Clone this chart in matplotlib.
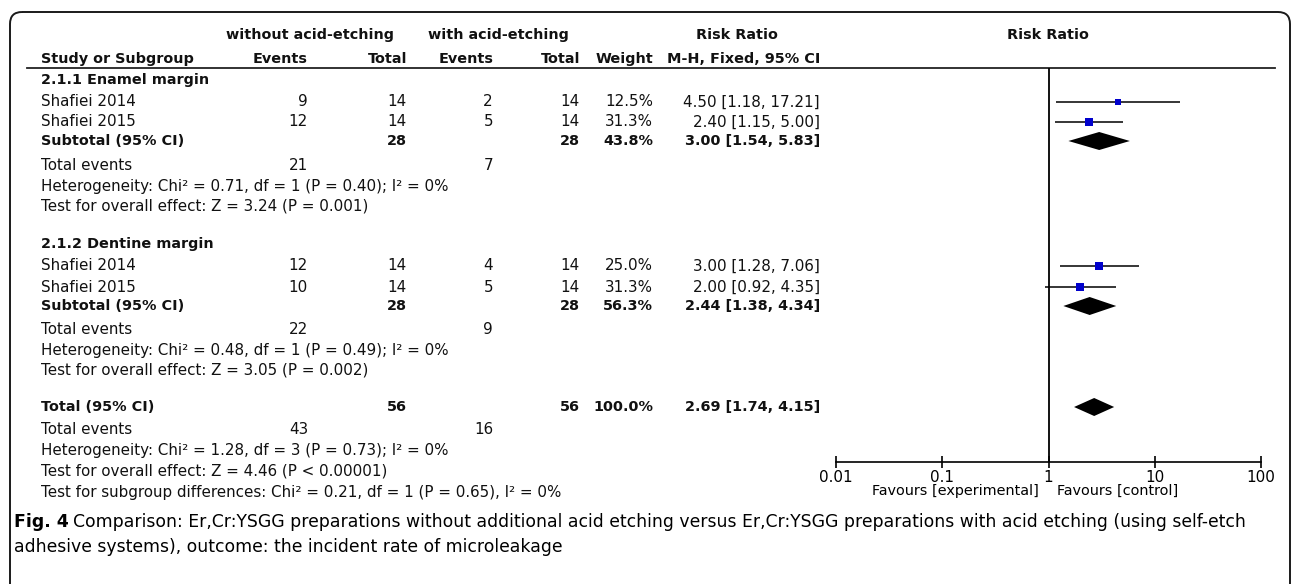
import numpy as np
import matplotlib.pyplot as plt
from matplotlib.patches import FancyBboxPatch

# forest plot data
groups = ['2.1.1 Enamel margin', '2.1.2 Dentine margin']
studies = ['Shafiei 2014', 'Shafiei 2015', 'Shafiei 2014', 'Shafiei 2015']
study_group = [0, 0, 1, 1]
ev_exp = [9, 12, 12, 10]
tot_exp = [14, 14, 14, 14]
ev_ctl = [2, 5, 4, 5]
tot_ctl = [14, 14, 14, 14]
weights = [12.5, 31.3, 25.0, 31.3]
rr = [4.50, 2.40, 3.00, 2.00]
rr_lo = [1.18, 1.15, 1.28, 0.92]
rr_hi = [17.21, 5.00, 7.06, 4.35]

sub_tot_exp = [28, 28]
sub_tot_ctl = [28, 28]
sub_ev_exp = [21, 22]
sub_ev_ctl = [7, 9]
sub_weight = [43.8, 56.3]
sub_rr = [3.00, 2.44]
sub_lo = [1.54, 1.38]
sub_hi = [5.83, 4.34]
sub_het = ['Heterogeneity: Chi² = 0.71, df = 1 (P = 0.40); I² = 0%',
           'Heterogeneity: Chi² = 0.48, df = 1 (P = 0.49); I² = 0%']
sub_test = ['Test for overall effect: Z = 3.24 (P = 0.001)',
            'Test for overall effect: Z = 3.05 (P = 0.002)']

total_n = [56, 56]
total_ev = [43, 16]
total_rr = 2.69
total_lo = 1.74
total_hi = 4.15
total_het = 'Heterogeneity: Chi² = 1.28, df = 3 (P = 0.73); I² = 0%'
total_test = 'Test for overall effect: Z = 4.46 (P < 0.00001)'
subgroup_test = 'Test for subgroup differences: Chi² = 0.21, df = 1 (P = 0.65), I² = 0%'

ticks = [0.01, 0.1, 1, 10, 100]
tick_labels = ['0.01', '0.1', '1', '10', '100']

caption_bold = 'Fig. 4'
caption_1 = ('Comparison: Er,Cr:YSGG preparations without additional acid etching versus '
             'Er,Cr:YSGG preparations with acid etching (using self-etch')
caption_2 = 'adhesive systems), outcome: the incident rate of microleakage'

# layout (pixels)
W, H = 1292, 584
FS = 10.9   # regular text
FSB = 10.4  # bold text
x_label = 41
x_ev1, x_tot1, x_ev2, x_tot2, x_w, x_ci = 308, 407, 493, 580, 653, 820
x_one = 1048
axis_y = 462
head_y = 68

group_rows = [[80, 102, 122, 141, 165, 186, 206],
              [244, 266, 287, 306, 329, 350, 370]]
total_rows = [407, 430, 451, 471, 492]

plt.rcParams['font.family'] = ['DejaVu Sans']
fig = plt.figure(figsize=(W / 100, H / 100), dpi=100)
ax = fig.add_axes([0, 0, 1, 1])
ax.set_xlim(0, W)
ax.set_ylim(H, 0)
ax.axis('off')

# frame
frame = FancyBboxPatch((10, 12), 1280, 620, boxstyle='round,pad=0,rounding_size=12',
                       fc='none', ec='#1a1a1a', lw=1.4)
ax.add_patch(frame)


def txt(x, y, s, ha='left', bold=False):
    ax.text(x, y, s, ha=ha, va='center', fontsize=FSB if bold else FS,
            fontweight='bold' if bold else 'normal', color='#111111')


# header
txt(310, 35, 'without acid-etching', ha='center', bold=True)
txt(498, 35, 'with acid-etching', ha='center', bold=True)
txt(737, 35, 'Risk Ratio', ha='center', bold=True)
txt(x_one, 35, 'Risk Ratio', ha='center', bold=True)
txt(x_label, 59, 'Study or Subgroup', bold=True)
txt(x_ev1, 59, 'Events', ha='right', bold=True)
txt(x_tot1, 59, 'Total', ha='right', bold=True)
txt(x_ev2, 59, 'Events', ha='right', bold=True)
txt(x_tot2, 59, 'Total', ha='right', bold=True)
txt(x_w, 59, 'Weight', ha='right', bold=True)
txt(x_ci, 59, 'M-H, Fixed, 95% CI', ha='right', bold=True)
ax.plot([27, 1275], [head_y, head_y], color='#222222', lw=1.3)

# forest axes
fa = fig.add_axes([836 / W, (H - axis_y) / H, (1261 - 836) / W, (axis_y - head_y) / H])
fa.set_xscale('log')
fa.set_xlim(0.01, 100)
fa.set_ylim(axis_y, head_y)
fa.patch.set_visible(False)
for s in ['top', 'left', 'right']:
    fa.spines[s].set_visible(False)
fa.spines['bottom'].set_linewidth(1.2)
fa.set_yticks([])
fa.set_xticks(ticks)
fa.set_xticklabels(tick_labels)
fa.xaxis.set_minor_locator(plt.NullLocator())
fa.tick_params(axis='x', direction='inout', length=9, width=1.2, labelsize=FS, pad=1)
fa.axvline(1, color='black', lw=1.3)


def diamond(y, est, lo, hi):
    fa.fill([lo, est, hi, est], [y, y - 9, y, y + 9], color='black', lw=0)


for g in range(len(groups)):
    rows = group_rows[g]
    txt(x_label, rows[0], groups[g], bold=True)
    idx = [i for i in range(len(studies)) if study_group[i] == g]
    for k, i in enumerate(idx):
        y = rows[1 + k]
        txt(x_label, y, studies[i])
        txt(x_ev1, y, str(ev_exp[i]), ha='right')
        txt(x_tot1, y, str(tot_exp[i]), ha='right')
        txt(x_ev2, y, str(ev_ctl[i]), ha='right')
        txt(x_tot2, y, str(tot_ctl[i]), ha='right')
        txt(x_w, y, f'{weights[i]:.1f}%', ha='right')
        txt(x_ci, y, f'{rr[i]:.2f} [{rr_lo[i]:.2f}, {rr_hi[i]:.2f}]', ha='right')
        fa.hlines(y, rr_lo[i], rr_hi[i], color='black', lw=1.1)
        side = 1.5 * np.sqrt(weights[i])
        fa.plot(rr[i], y, marker='s', ms=side * 0.72, color='#0000CC', mec='#0000CC', mew=0)
    y = rows[3]
    txt(x_label, y, 'Subtotal (95% CI)', bold=True)
    txt(x_tot1, y, str(sub_tot_exp[g]), ha='right', bold=True)
    txt(x_tot2, y, str(sub_tot_ctl[g]), ha='right', bold=True)
    txt(x_w, y, f'{sub_weight[g]:.1f}%', ha='right', bold=True)
    txt(x_ci, y, f'{sub_rr[g]:.2f} [{sub_lo[g]:.2f}, {sub_hi[g]:.2f}]', ha='right', bold=True)
    diamond(y, sub_rr[g], sub_lo[g], sub_hi[g])
    txt(x_label, rows[4], 'Total events')
    txt(x_ev1, rows[4], str(sub_ev_exp[g]), ha='right')
    txt(x_ev2, rows[4], str(sub_ev_ctl[g]), ha='right')
    txt(x_label, rows[5], sub_het[g])
    txt(x_label, rows[6], sub_test[g])

# overall
y = total_rows[0]
txt(x_label, y, 'Total (95% CI)', bold=True)
txt(x_tot1, y, str(total_n[0]), ha='right', bold=True)
txt(x_tot2, y, str(total_n[1]), ha='right', bold=True)
txt(x_w, y, '100.0%', ha='right', bold=True)
txt(x_ci, y, f'{total_rr:.2f} [{total_lo:.2f}, {total_hi:.2f}]', ha='right', bold=True)
diamond(y, total_rr, total_lo, total_hi)
txt(x_label, total_rows[1], 'Total events')
txt(x_ev1, total_rows[1], str(total_ev[0]), ha='right')
txt(x_ev2, total_rows[1], str(total_ev[1]), ha='right')
txt(x_label, total_rows[2], total_het)
txt(x_label, total_rows[3], total_test)
txt(x_label, total_rows[4], subgroup_test)

ax.text(x_one - 9, 491, 'Favours [experimental]', ha='right', va='center', fontsize=10.4)
ax.text(x_one + 9, 491, 'Favours [control]', ha='left', va='center', fontsize=10.4)

# caption
CS = 12.4
t = ax.text(14, 522, caption_bold, ha='left', va='center', fontsize=CS, fontweight='bold')
fig.canvas.draw()
bb = t.get_window_extent()
ax.text(bb.x1 + 4, 522, caption_1, ha='left', va='center', fontsize=CS)
ax.text(14, 547, caption_2, ha='left', va='center', fontsize=CS)

fig.savefig('out.png', dpi=100)
